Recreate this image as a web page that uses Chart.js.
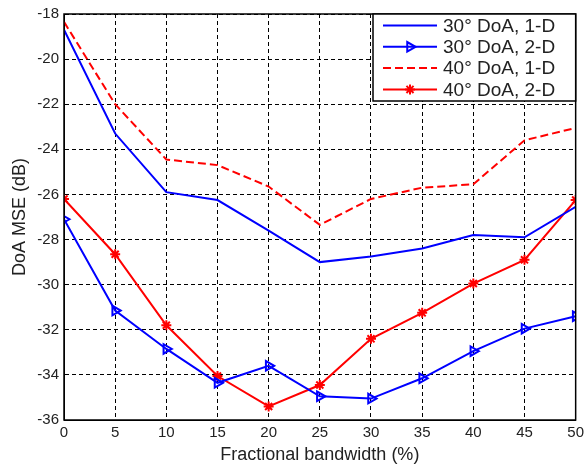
<!DOCTYPE html>
<html>
<head>
<meta charset="utf-8">
<script src="https://cdn.jsdelivr.net/npm/chart.js@4.4.1/dist/chart.umd.min.js"></script>
<style>
  html, body { margin: 0; padding: 0; background: #fff; }
  #wrap { width: 588px; height: 466px; }
</style>
</head>
<body>
<div id="wrap"><canvas id="grafiek" width="588" height="466"></canvas></div>
<script>
// Fractionele bandbreedte (%) op de x-as
const bandbreedte = [0, 5, 10, 15, 20, 25, 30, 35, 40, 45, 50];

// MSE waarden (dB) per reeks
const doa30_1d = [-18.7, -23.3, -25.9, -26.25, -27.6, -29.0, -28.75, -28.4, -27.8, -27.9, -26.55];
const doa30_2d = [-27.1, -31.15, -32.85, -34.35, -33.6, -34.95, -35.05, -34.15, -32.95, -31.95, -31.4];
const doa40_1d = [-18.35, -22.0, -24.45, -24.7, -25.65, -27.35, -26.2, -25.7, -25.55, -23.6, -23.05];
const doa40_2d = [-26.2, -28.65, -31.8, -34.05, -35.4, -34.45, -32.4, -31.25, -29.95, -28.9, -26.25];

const reeksNamen = ["30\u00b0 DoA, 1-D", "30\u00b0 DoA, 2-D", "40\u00b0 DoA, 1-D", "40\u00b0 DoA, 2-D"];

const xTicks = [0, 5, 10, 15, 20, 25, 30, 35, 40, 45, 50];
const yTicks = [-36, -34, -32, -30, -28, -26, -24, -22, -20, -18];

const lettertype = "Arial, 'Liberation Sans', sans-serif";
const tekstKleur = "#222";
const rasterStreep = [4, 3];

function punten(waarden) {
    return waarden.map((v, i) => ({ x: bandbreedte[i], y: v }));
}

// Legende binnen de grafiek, rechtsboven, met kader
const legendePlugin = {
    id: 'legendeBinnen',
    afterDraw(chart) {
        const ctx = chart.ctx;
        const area = chart.chartArea;
        const bx = 373, by = area.top, bw = area.right - 373, bh = 87;
        ctx.save();
        ctx.fillStyle = '#fff';
        ctx.fillRect(bx, by, bw, bh);
        ctx.strokeStyle = '#000';
        ctx.lineWidth = 1.5;
        ctx.strokeRect(bx, by, bw, bh);
        ctx.font = '19px ' + lettertype;
        ctx.textBaseline = 'middle';
        chart.data.datasets.forEach((ds, i) => {
            const y = by + 11.5 + i * 21.3;
            ctx.strokeStyle = ds.borderColor;
            ctx.lineWidth = ds.borderWidth;
            ctx.setLineDash(ds.borderDash || []);
            ctx.beginPath();
            ctx.moveTo(383, y);
            ctx.lineTo(437, y);
            ctx.stroke();
            ctx.setLineDash([]);
            if (ds.pointRadius > 0) {
                ctx.fillStyle = 'rgba(0,0,0,0)';
                Chart.helpers.drawPoint(ctx, {
                    pointStyle: ds.pointStyle,
                    rotation: ds.pointRotation || 0,
                    radius: ds.pointRadius,
                    borderWidth: ds.pointBorderWidth
                }, 410, y);
            }
            ctx.fillStyle = tekstKleur;
            ctx.fillText(ds.label, 443, y + 1);
        });
        ctx.restore();
    }
};

// Kader rond het tekengebied
const kaderPlugin = {
    id: 'kader',
    afterDatasetsDraw(chart) {
        const a = chart.chartArea;
        const ctx = chart.ctx;
        ctx.save();
        ctx.strokeStyle = '#000';
        ctx.lineWidth = 1.5;
        ctx.setLineDash([]);
        ctx.strokeRect(a.left, a.top, a.right - a.left, a.bottom - a.top);
        ctx.restore();
    }
};

const datasets = [
    {
        label: reeksNamen[0], data: punten(doa30_1d),
        borderColor: '#0000ff', backgroundColor: '#0000ff', borderWidth: 2,
        pointRadius: 0
    },
    {
        label: reeksNamen[1], data: punten(doa30_2d),
        borderColor: '#0000ff', backgroundColor: 'rgba(0,0,0,0)', borderWidth: 2,
        pointStyle: 'triangle', pointRotation: 90, pointRadius: 5.5, pointBorderWidth: 2,
        pointBorderColor: '#0000ff', pointBackgroundColor: 'rgba(0,0,0,0)'
    },
    {
        label: reeksNamen[2], data: punten(doa40_1d),
        borderColor: '#ff0000', backgroundColor: '#ff0000', borderWidth: 2,
        borderDash: [8, 4], pointRadius: 0
    },
    {
        label: reeksNamen[3], data: punten(doa40_2d),
        borderColor: '#ff0000', backgroundColor: 'rgba(0,0,0,0)', borderWidth: 2,
        pointStyle: 'star', pointRadius: 5, pointBorderWidth: 2,
        pointBorderColor: '#ff0000', pointBackgroundColor: 'rgba(0,0,0,0)'
    }
];

new Chart(document.getElementById('grafiek').getContext('2d'), {
    type: 'line',
    data: { datasets: datasets },
    options: {
        responsive: false,
        animation: false,
        layout: { padding: { left: 0, right: 9, top: 13, bottom: 0 } },
        plugins: {
            legend: { display: false },
            tooltip: { enabled: false }
        },
        elements: { line: { tension: 0 } },
        scales: {
            x: {
                type: 'linear', min: 0, max: 50,
                afterBuildTicks: ax => { ax.ticks = xTicks.map(v => ({ value: v })); },
                afterFit: ax => { ax.height = 46; },
                grid: { color: '#000', lineWidth: 1, drawTicks: false, borderDash: rasterStreep },
                border: { display: true, color: '#000', width: 1, dash: rasterStreep },
                ticks: {
                    color: tekstKleur, padding: 4,
                    font: { family: lettertype, size: 15 }
                },
                title: {
                    display: true, text: 'Fractional bandwidth (%)',
                    color: tekstKleur, padding: { top: 2, bottom: 0 },
                    font: { family: lettertype, size: 18 }
                }
            },
            y: {
                type: 'linear', min: -36, max: -18,
                afterBuildTicks: ax => { ax.ticks = yTicks.map(v => ({ value: v })); },
                afterFit: ax => { ax.width = 64; },
                grid: { color: '#000', lineWidth: 1, drawTicks: false, borderDash: rasterStreep },
                border: { display: true, color: '#000', width: 1, dash: rasterStreep },
                ticks: {
                    color: tekstKleur, padding: 5,
                    font: { family: lettertype, size: 15 }
                },
                title: {
                    display: true, text: 'DoA MSE (dB)',
                    color: tekstKleur, padding: { top: 9, bottom: 0 },
                    font: { family: lettertype, size: 18 }
                }
            }
        }
    },
    plugins: [kaderPlugin, legendePlugin]
});
</script>
</body>
</html>
